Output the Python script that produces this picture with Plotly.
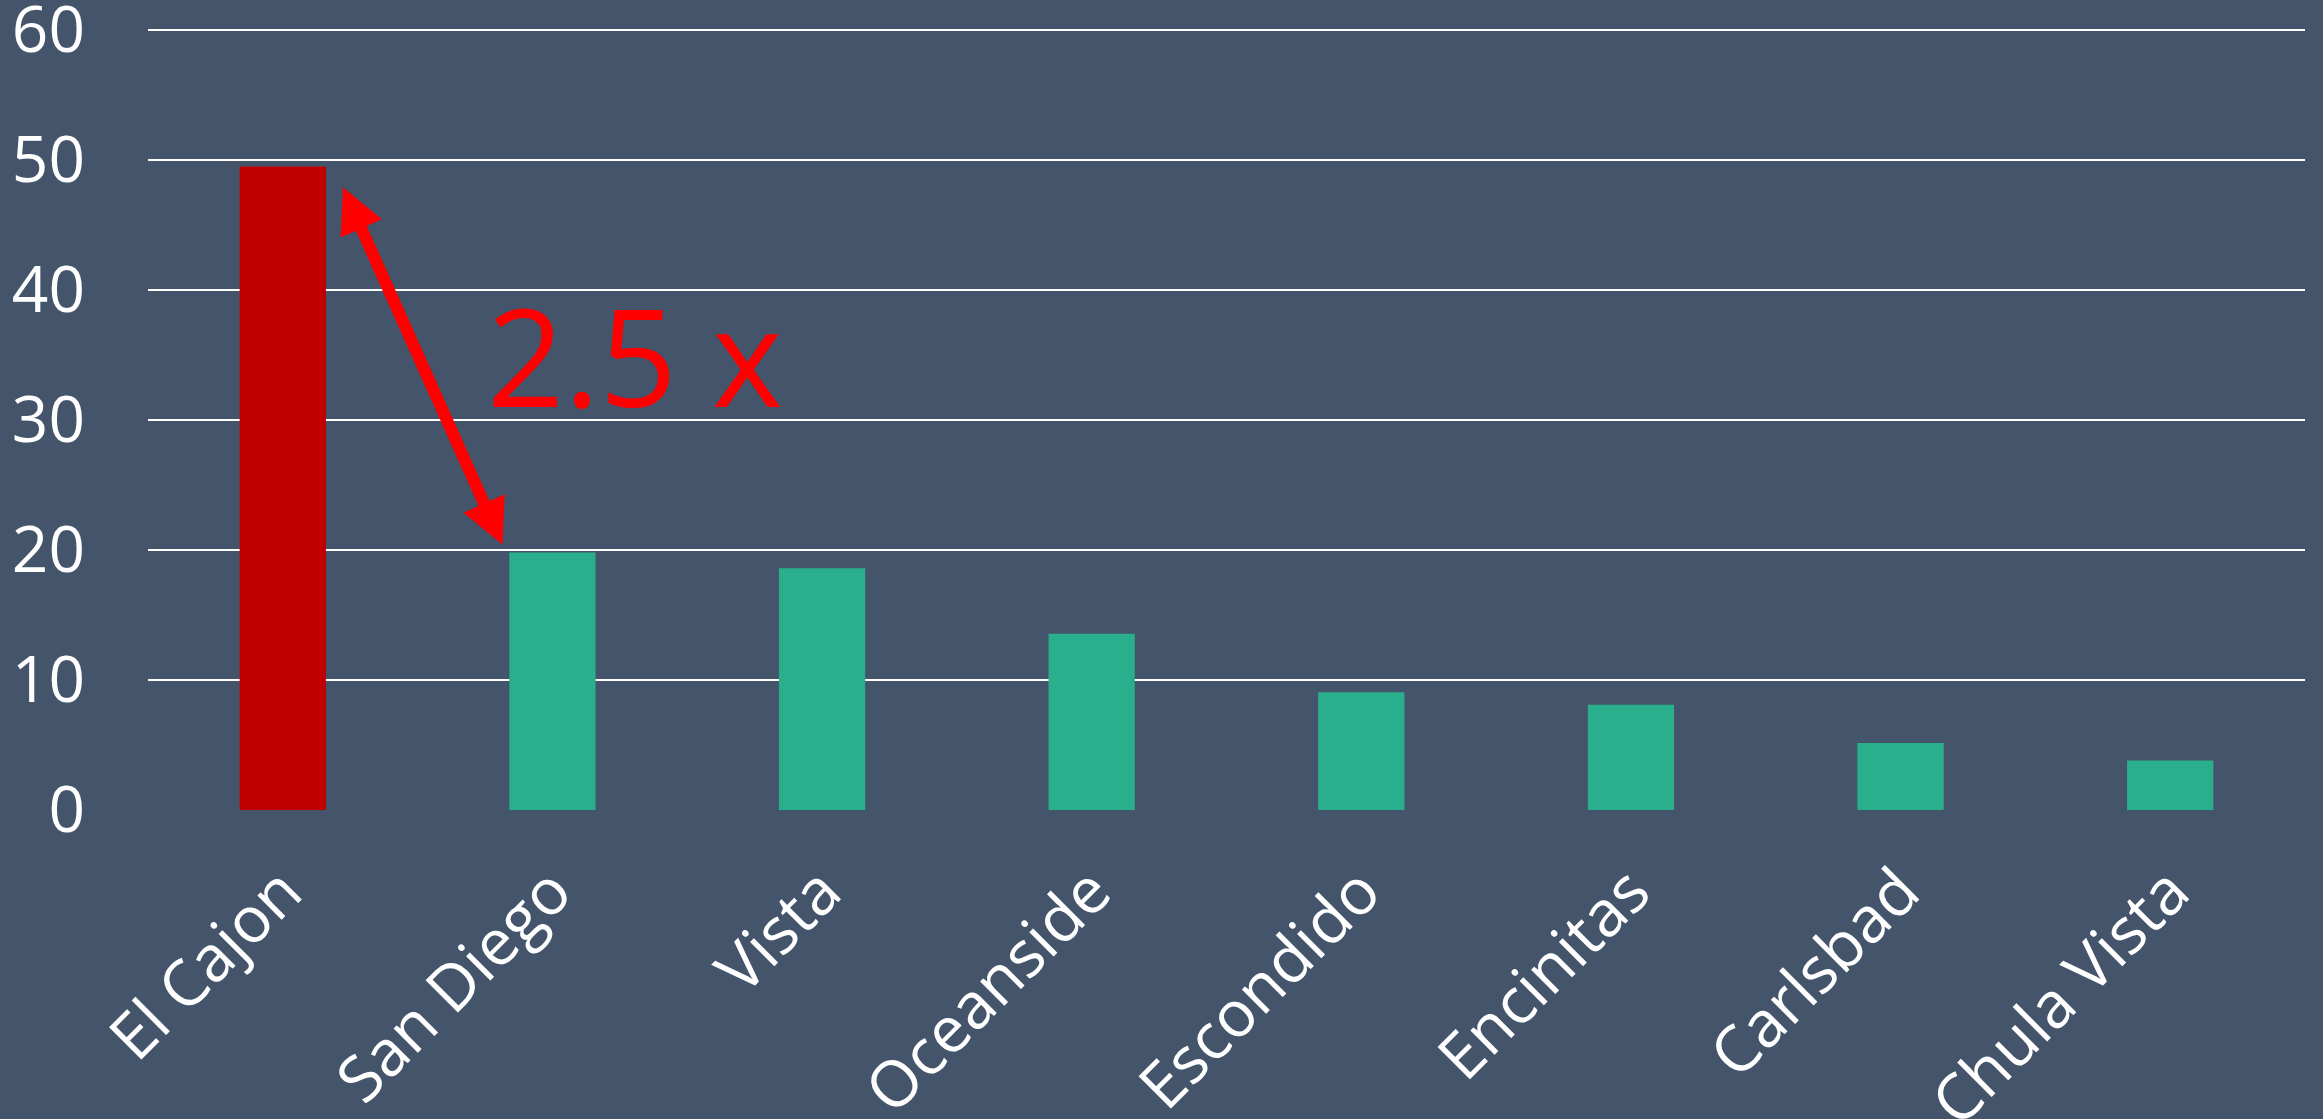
import plotly.graph_objects as go

categories = ["El Cajon", "San Diego", "Vista", "Oceanside", "Escondido", "Encinitas", "Carlsbad", "Chula Vista"]
values = [49.5, 19.8, 18.6, 13.55, 9.05, 8.1, 5.15, 3.8]
bar_colors = ["#C00000"] + ["#2AAF8C"] * 7
y_ticks = [0, 10, 20, 30, 40, 50, 60]
ratio_label = "2.5 x"

x_idx = list(range(len(categories)))
BG = "#44546A"
FONT = "Open Sans"

fig = go.Figure(go.Bar(x=x_idx, y=values, marker=dict(color=bar_colors, line=dict(width=0)), showlegend=False))

# double-headed arrow between El Cajon and San Diego
fig.add_annotation(x=0.223, y=47.9, ax=0.817, ay=20.3, xref="x", yref="y", axref="x", ayref="y",
                   showarrow=True, arrowhead=2, startarrowhead=2, arrowside="end+start",
                   arrowwidth=12, arrowsize=0.75, startarrowsize=0.75, arrowcolor="#FF0000", text="")
fig.add_annotation(x=1.306, y=35.0, xref="x", yref="y", text=ratio_label, showarrow=False,
                   font=dict(family=FONT, size=135, color="#FF0000"), xanchor="center", yanchor="middle")

fig.update_layout(
    width=2323, height=1119,
    paper_bgcolor=BG, plot_bgcolor=BG,
    margin=dict(l=148, r=18, t=26, b=309, pad=0, autoexpand=False),
    bargap=0.68,
    font=dict(family=FONT, color="white"),
)
fig.update_xaxes(range=[-0.5, 7.5], tickmode="array", tickvals=x_idx, ticktext=categories,
                 tickangle=-45, tickfont=dict(size=64, color="white", family=FONT),
                 showgrid=False, zeroline=False, showline=False, ticks="", ticklabelstandoff=30,
                 automargin=False, ticklabeloverflow="allow")
fig.update_yaxes(range=[0, 60.3], tickmode="array", tickvals=y_ticks, ticktext=[str(v) for v in y_ticks],
                 tickfont=dict(size=64, color="white", family=FONT),
                 showgrid=True, gridcolor="white", gridwidth=2, zeroline=False, showline=False,
                 ticks="", ticklabelstandoff=62, automargin=False, ticklabeloverflow="allow")

fig.write_html("out.html", config={"displayModeBar": False},
               post_script="document.body.style.margin='0';document.body.style.overflow='hidden';")
